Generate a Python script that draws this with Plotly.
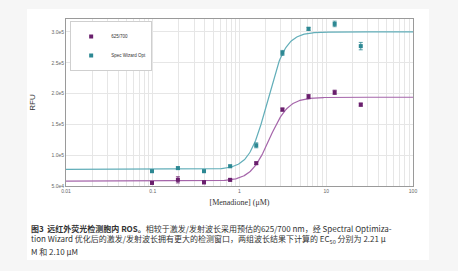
import numpy as np
import plotly.graph_objects as go

# ---- data ----
conc = [0.098, 0.195, 0.39, 0.78, 1.56, 3.125, 6.25, 12.5, 25]
rfu_625 = [55000, 60000, 56000, 60000, 87000, 174000, 195000, 202000, 182000]
err_625 = [2000, 5000, 2500, 2000, 2000, 2500, 3500, 3500, 2500]
rfu_opt = [74000, 79000, 74000, 82000, 116000, 266000, 305000, 313000, 277000]
err_opt = [2000, 2000, 2000, 2000, 4000, 4000, 2500, 4500, 6000]

# 4PL fit parameters (bottom, top, EC50, hill)
fit_625 = (58000, 194000, 2.21, 4.0)
fit_opt = (77000, 300000, 2.10, 4.2)

series_names = ["625/700", "Spec Wizard Opt"]
ytick_vals = [50000, 100000, 150000, 200000, 250000, 300000]
ytick_text = ["5.0e4", "1.0e5", "1.5e5", "2.0e5", "2.5e5", "3.0e5"]
xtick_vals = [0.01, 0.1, 1, 10, 100]
xtick_text = ["0.01", "0.1", "1", "10", "100"]
x_title = "[Menadione] (μM)"
y_title = "RFU"
caption_lines = [
    "<b>图3  远红外荧光检测胞内 ROS。</b>相较于激发/发射波长采用预估的625/700 nm，经 Spectral Optimiza-",
    "tion Wizard 优化后的激发/发射波长拥有更大的检测窗口，两组波长结果下计算的 EC<sub>50</sub> 分别为 2.21 μ",
    "M 和 2.10 μM",
]

def fourpl(x, p):
    b, t, ec, h = p
    x = np.asarray(x)
    return b + (t - b) / (1 + (ec / x) ** h)

xfit = np.logspace(-2, 2, 400)

c_purple_m = "#6a1f6d"
c_purple_l = "#a565aa"
c_teal_m = "#2d8893"
c_teal_l = "#62aeb9"

fig = go.Figure()
fig.add_trace(go.Scatter(x=xfit, y=fourpl(xfit, fit_625), mode="lines",
                         line=dict(color=c_purple_l, width=1.2), showlegend=False, hoverinfo="skip"))
fig.add_trace(go.Scatter(x=xfit, y=fourpl(xfit, fit_opt), mode="lines",
                         line=dict(color=c_teal_l, width=1.2), showlegend=False, hoverinfo="skip"))
fig.add_trace(go.Scatter(x=conc, y=rfu_625, mode="markers", name=series_names[0],
                         marker=dict(symbol="square", size=4, color=c_purple_m),
                         error_y=dict(type="data", array=err_625, color=c_purple_m, thickness=0.8, width=2)))
fig.add_trace(go.Scatter(x=conc, y=rfu_opt, mode="markers", name=series_names[1],
                         marker=dict(symbol="square", size=4, color=c_teal_m),
                         error_y=dict(type="data", array=err_opt, color=c_teal_m, thickness=0.8, width=2)))

fig.update_xaxes(type="log", range=[-2, 2], tickvals=xtick_vals, ticktext=xtick_text,
                 showgrid=True, gridcolor="#e6e6e6", gridwidth=1,
                 minor=dict(showgrid=True, gridcolor="#e6e6e6", gridwidth=1, dtick="D1", ticks=""),
                 showline=True, linecolor="#9a9a9a", linewidth=1, mirror=True,
                 ticks="", tickfont=dict(size=5, color="#666", family="Liberation Sans"),
                 title=dict(text=x_title, font=dict(size=8, color="#333", family="Liberation Serif"), standoff=6),
                 zeroline=False)
fig.update_yaxes(range=[50000, 321000], tickvals=ytick_vals, ticktext=ytick_text,
                 showgrid=True, gridcolor="#e6e6e6", gridwidth=1,
                 showline=True, linecolor="#9a9a9a", linewidth=1, mirror=True,
                 ticks="", tickfont=dict(size=5, color="#666", family="Liberation Sans"),
                 title=dict(text=y_title, font=dict(size=8, color="#333", family="Liberation Sans"), standoff=14),
                 zeroline=False)

annotations = []
for i, line in enumerate(caption_lines):
    annotations.append(dict(text=line, xref="paper", yref="paper",
                            x=(29 - 66) / 347, y=(186 - (228 + 11.5 * i)) / 167,
                            xanchor="left", yanchor="middle", showarrow=False, align="left",
                            font=dict(size=8.0, color="#333", family="Noto Sans CJK SC")))

fig.update_layout(
    width=458, height=271,
    margin=dict(l=66, r=45, t=19, b=85),
    paper_bgcolor="#f6f6f6", plot_bgcolor="white",
    shapes=[dict(type="rect", xref="paper", yref="paper", layer="below",
                 x0=(27 - 66) / 347, x1=(429 - 66) / 347,
                 y0=(186 - 260) / 167, y1=(186 - 9) / 167,
                 fillcolor="white", line=dict(width=0))],
    legend=dict(x=0.012, y=0.988, xanchor="left", yanchor="top",
                bgcolor="white", bordercolor="#cfcfcf", borderwidth=1,
                font=dict(size=4.5, color="#333", family="Liberation Sans"),
                itemwidth=30, tracegroupgap=0),
    annotations=annotations,
    showlegend=True,
)

fig.write_html("out.html")
